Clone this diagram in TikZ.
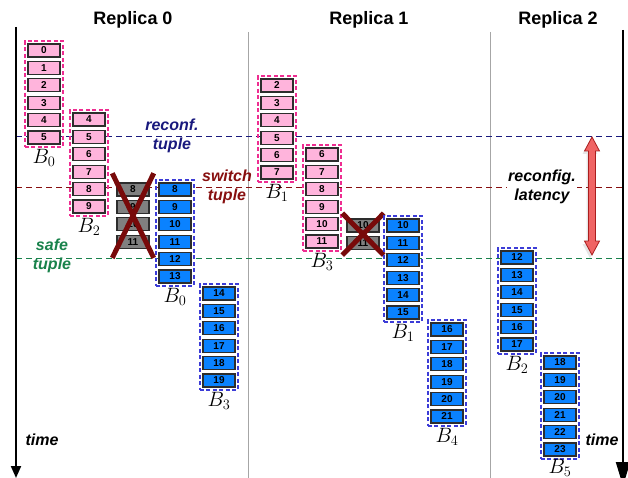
\documentclass[tikz,border=0pt]{standalone}
\usepackage[no-math]{fontspec}
\setsansfont{Liberation Sans}
\usepackage{tikz}
\usetikzlibrary{arrows.meta}
\usetikzlibrary{positioning}
\usetikzlibrary{fit}
\usetikzlibrary{shadows}
\definecolor{pinkfill}{RGB}{255,180,220}
\definecolor{pinkline}{RGB}{238,45,145}
\definecolor{bluefill}{RGB}{10,130,255}
\definecolor{blueline}{RGB}{60,60,215}
\definecolor{lostfill}{RGB}{128,128,128}
\definecolor{entryline}{RGB}{45,45,45}
\definecolor{reconfcol}{RGB}{25,25,125}
\definecolor{switchcol}{RGB}{135,15,15}
\definecolor{safecol}{RGB}{25,130,75}
\definecolor{crosscol}{RGB}{120,10,10}
\definecolor{arrowfill}{RGB}{240,100,100}
\definecolor{arrowline}{RGB}{170,30,30}
\tikzstyle{entry}=[draw=entryline,line width=1.1pt,minimum width=32pt,minimum height=13pt,inner sep=0pt,font=\sffamily\bfseries\fontsize{10}{10}\selectfont]
\tikzstyle{oldentry}=[entry,fill=pinkfill]
\tikzstyle{newentry}=[entry,fill=bluefill]
\tikzstyle{lostentry}=[entry,fill=lostfill]
\tikzstyle{oldbatch}=[draw=pinkline,line width=1.2pt,dash pattern=on 4pt off 2.5pt,inner sep=2.5pt]
\tikzstyle{newbatch}=[draw=blueline,line width=1.2pt,dash pattern=on 4pt off 2.5pt,inner sep=2.5pt]
\tikzstyle{batchname}=[inner sep=0pt,font=\fontsize{21}{21}\selectfont]
\tikzstyle{replica}=[font=\sffamily\bfseries\fontsize{18}{18}\selectfont]
\tikzstyle{tuplelabel}=[align=center,inner sep=1pt,font=\sffamily\bfseries\itshape\fontsize{16}{19}\selectfont]
\tikzstyle{tupleline}=[line width=1pt,dash pattern=on 6pt off 4pt]
\tikzstyle{cutmark}=[line width=5pt,draw=crosscol]
\tikzstyle{timeline}=[line width=2pt,-{Triangle[length=12pt,width=10pt]}]

\begin{document}
\begin{tikzpicture}[x=1pt,y=-1pt]
\useasboundingbox (0,0) rectangle (628,478);

% replica titles and separators
\node[replica] (rep0) at (133,20) {Replica 0};
\node[replica] (rep1) at (369,20) {Replica 1};
\node[replica] (rep2) at (558,20) {Replica 2};
\coordinate (sep1a) at (248,32); \coordinate (sep1b) at (248,478);
\coordinate (sep2a) at (490,32); \coordinate (sep2b) at (490,478);
\draw[black!35,line width=1pt] (sep1a) -- (sep1b);
\draw[black!35,line width=1pt] (sep2a) -- (sep2b);

% tuple lines
\coordinate (rcL) at (16,137); \coordinate (rcR) at (623,137);
\coordinate (swL) at (16,188); \coordinate (swR) at (623,188);
\coordinate (sfL) at (16,258); \coordinate (sfR) at (623,258);
\draw[tupleline,reconfcol] (rcL) -- (rcR);
\draw[tupleline,switchcol] (swL) -- (swR);
\draw[tupleline,safecol] (sfL) -- (sfR);
\node[tuplelabel,text=reconfcol] (reconf) at (172,136) {reconf.\\tuple};
\node[tuplelabel,text=switchcol] (switch) at (227,187) {switch\\tuple};
\node[tuplelabel,text=safecol] (safe) at (52,256) {safe\\tuple};

% time axes
\coordinate (t0a) at (16,27); \coordinate (t0b) at (16,478);
\coordinate (t1a) at (623,30); \coordinate (t1b) at (623,486);
\draw[timeline] (t0a) -- (t0b);
\draw[line width=2pt,-{Triangle[length=24pt,width=14pt]}] (t1a) -- (t1b);
\node[tuplelabel] (time0) at (42,440) {time};
\node[tuplelabel] (time1) at (602,440) {time};

% replica 0
\foreach \n in {0,...,5}
  \node[oldentry] (r0b0-\n) at (44,{50.5+17.4*\n}) {\n};
\node[oldbatch,fit=(r0b0-0)(r0b0-5)] (r0b0) {};
\node[batchname,below=1pt of r0b0] (r0b0-name) {$B_0$};
\foreach \n in {4,...,9}
  \node[oldentry] (r0b2-\n) at (89,{119.5+17.4*(\n-4)}) {\n};
\node[oldbatch,fit=(r0b2-4)(r0b2-9)] (r0b2) {};
\node[batchname,below=1pt of r0b2] (r0b2-name) {$B_2$};
\foreach \n in {8,...,11}
  \node[lostentry] (r0x-\n) at (133,{189.5+17.4*(\n-8)}) {\n};
\node[fit=(r0x-8)(r0x-11),inner xsep=4pt,inner ysep=9pt] (r0cut) {};
\draw[cutmark] (r0cut.north west) -- (r0cut.south east);
\draw[cutmark] (r0cut.north east) -- (r0cut.south west);
\foreach \n in {8,...,13}
  \node[newentry] (r0n0-\n) at (175,{189.5+17.4*(\n-8)}) {\n};
\node[newbatch,fit=(r0n0-8)(r0n0-13)] (r0n0) {};
\node[batchname,below=1pt of r0n0] (r0n0-name) {$B_0$};
\foreach \n in {14,...,19}
  \node[newentry] (r0n3-\n) at (219,{293.5+17.4*(\n-14)}) {\n};
\node[newbatch,fit=(r0n3-14)(r0n3-19)] (r0n3) {};
\node[batchname,below=1pt of r0n3] (r0n3-name) {$B_3$};

% replica 1
\foreach \n in {2,...,7}
  \node[oldentry] (r1b1-\n) at (277,{85.5+17.4*(\n-2)}) {\n};
\node[oldbatch,fit=(r1b1-2)(r1b1-7)] (r1b1) {};
\node[batchname,below=1pt of r1b1] (r1b1-name) {$B_1$};
\foreach \n in {6,...,11}
  \node[oldentry] (r1b3-\n) at (322,{154.5+17.4*(\n-6)}) {\n};
\node[oldbatch,fit=(r1b3-6)(r1b3-11)] (r1b3) {};
\node[batchname,below=1pt of r1b3] (r1b3-name) {$B_3$};
\foreach \n in {10,11}
  \node[lostentry] (r1x-\n) at (363,{225.5+17.4*(\n-10)}) {\n};
\node[fit=(r1x-10)(r1x-11),inner xsep=4pt,inner ysep=5pt] (r1cut) {};
\draw[cutmark] (r1cut.north west) -- (r1cut.south east);
\draw[cutmark] (r1cut.north east) -- (r1cut.south west);
\foreach \n in {10,...,15}
  \node[newentry] (r1n1-\n) at (403,{225.5+17.4*(\n-10)}) {\n};
\node[newbatch,fit=(r1n1-10)(r1n1-15)] (r1n1) {};
\node[batchname,below=1pt of r1n1] (r1n1-name) {$B_1$};
\foreach \n in {16,...,21}
  \node[newentry] (r1n4-\n) at (447,{329.5+17.4*(\n-16)}) {\n};
\node[newbatch,fit=(r1n4-16)(r1n4-21)] (r1n4) {};
\node[batchname,below=1pt of r1n4] (r1n4-name) {$B_4$};

% replica 2
\foreach \n in {12,...,17}
  \node[newentry] (r2n2-\n) at (517,{257.5+17.4*(\n-12)}) {\n};
\node[newbatch,fit=(r2n2-12)(r2n2-17)] (r2n2) {};
\node[batchname,below=1pt of r2n2] (r2n2-name) {$B_2$};
\foreach \n in {18,...,23}
  \node[newentry] (r2n5-\n) at (560,{362.5+17.4*(\n-18)}) {\n};
\node[newbatch,fit=(r2n5-18)(r2n5-23)] (r2n5) {};
\node[batchname,below=-1pt of r2n5] (r2n5-name) {$B_5$};

% reconfiguration latency
\filldraw[fill=arrowfill,draw=arrowline,line width=0.8pt,drop shadow={opacity=0.2,shadow xshift=-2pt,shadow yshift=-3pt}]
  (592,137) -- (599.5,151) -- (595.5,151) -- (595.5,241) -- (599.5,241) -- (592,255)
  -- (584.5,241) -- (588.5,241) -- (588.5,151) -- (584.5,151) -- cycle;
\node[tuplelabel,fill=white] (latency) at (542,187) {reconfig.\\latency};
\end{tikzpicture}
\end{document}
